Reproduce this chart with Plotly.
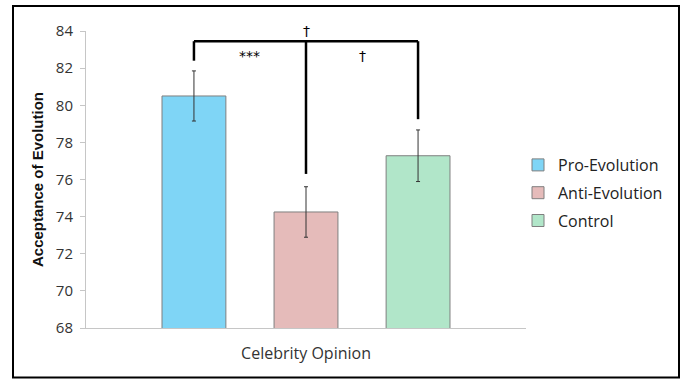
import plotly.graph_objects as go

# Data
category = ["Celebrity Opinion"]
groups = ["Pro-Evolution", "Anti-Evolution", "Control"]
means = [80.50, 74.25, 77.28]
errors = [1.35, 1.36, 1.39]
colors = ["#7fd5f6", "#e5bbba", "#b1e6c9"]

# Significance bracket (y levels in data units)
bracket_top = 83.45
bracket_ends = [82.40, 76.30, 79.25]
sig_labels = ["***", "\u2020"]
overall_label = "\u2020"

BARGAP = 0.236
GROUPGAP = 0.43
W, H = 682, 379
ML, MR, MT, MB = 86, 156, 31, 51
YMIN, YMAX = 68, 84

fig = go.Figure()
for name, m, e, c in zip(groups, means, errors, colors):
    fig.add_trace(go.Bar(
        x=category, y=[m], name=name, legendgroup=name,
        marker=dict(color=c, line=dict(color="#7f7f7f", width=1)),
        error_y=dict(type="data", array=[e], visible=True,
                     color="#333333", thickness=1, width=2),
    ))

# centre offsets of the three grouped bars, in category units
slot = (1 - BARGAP) / len(groups)
offsets = [(i - (len(groups) - 1) / 2) * slot for i in range(len(groups))]

line = dict(color="black", width=2.5)
shapes = [dict(type="line", xref="x", yref="y", x0=offsets[0], x1=offsets[-1],
               y0=bracket_top, y1=bracket_top, line=line)]
for off, yb in zip(offsets, bracket_ends):
    shapes.append(dict(type="line", xref="x", yref="y", x0=off, x1=off,
                       y0=yb, y1=bracket_top, line=line))

# frame around the whole figure (pixel -> paper coordinates)
pw, ph = W - ML - MR, H - MT - MB
def px(x):
    return (x - ML) / pw
def py(y):
    return (H - MB - y) / ph
shapes.append(dict(type="rect", xref="paper", yref="paper",
                   x0=px(13), x1=px(679), y0=py(6), y1=py(377.5),
                   line=dict(color="black", width=2)))

ann_font = dict(family="DejaVu Sans", size=14, color="#000000")
annotations = [
    dict(x=(offsets[0] + offsets[1]) / 2, y=82.67, xref="x", yref="y",
         text=sig_labels[0], showarrow=False, font=ann_font),
    dict(x=(offsets[1] + offsets[2]) / 2, y=82.67, xref="x", yref="y",
         text=sig_labels[1], showarrow=False, font=ann_font),
    dict(x=offsets[1], y=bracket_top, xref="x", yref="y", yanchor="bottom",
         yshift=0, text=overall_label, showarrow=False, font=ann_font),
]

fig.update_layout(
    width=W, height=H,
    margin=dict(l=ML, r=MR, t=MT, b=MB),
    paper_bgcolor="white", plot_bgcolor="white",
    barmode="group", bargap=BARGAP, bargroupgap=GROUPGAP,
    font=dict(family="Open Sans", size=14, color="#404040"),
    shapes=shapes, annotations=annotations,
    legend=dict(x=px(518), y=py(148), xanchor="left", yanchor="top",
                font=dict(family="Open Sans", size=16, color="#222222"),
                bgcolor="rgba(0,0,0,0)", tracegroupgap=4),
    showlegend=True,
)
fig.update_xaxes(
    showline=True, linecolor="#c6c6c6", linewidth=1,
    ticks="", showgrid=False, ticklabelstandoff=11,
    tickfont=dict(family="Open Sans", size=16, color="#333333"),
)
fig.update_yaxes(
    range=[YMIN, YMAX], dtick=2, tick0=68,
    showline=True, linecolor="#c6c6c6", linewidth=1,
    ticks="outside", ticklen=5, tickcolor="#c6c6c6",
    showgrid=False, zeroline=False, ticklabelstandoff=4,
    tickfont=dict(family="Open Sans", size=15, color="#333333"),
    title=dict(text="Acceptance of Evolution", standoff=8,
               font=dict(family="Liberation Sans", size=15, color="#111111",
                         weight="bold")),
)

fig.write_html("out.html")
